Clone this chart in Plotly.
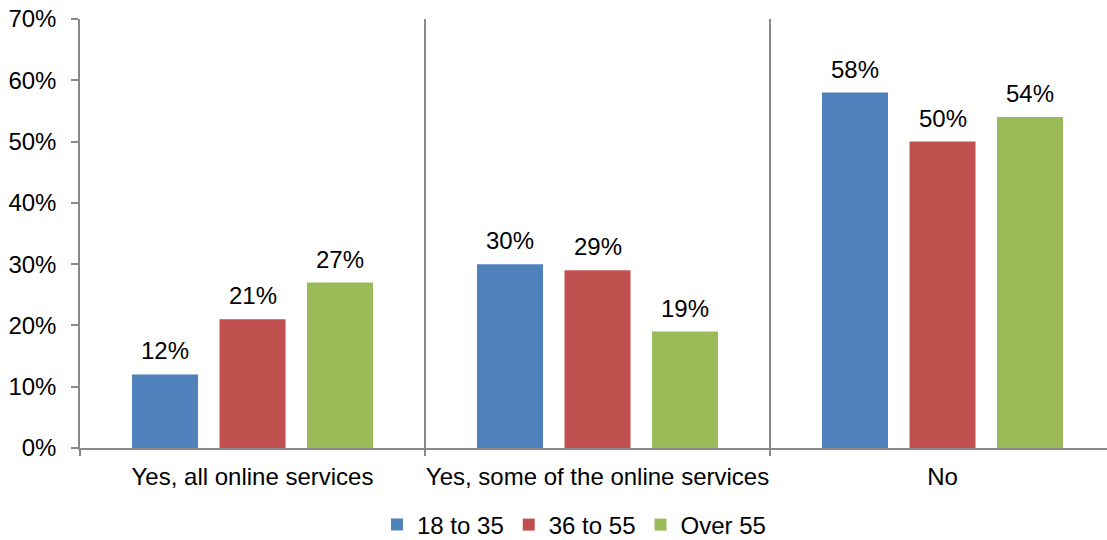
import plotly.graph_objects as go

categories = ["Yes, all online services", "Yes, some of the online services", "No"]
series_names = ["18 to 35", "36 to 55", "Over 55"]
series_values = [
    [0.12, 0.30, 0.58],
    [0.21, 0.29, 0.50],
    [0.27, 0.19, 0.54],
]
colors = ["#4F81BD", "#C0504D", "#9BBB59"]

BARGAP = 0.239
BARGROUPGAP = 0.246
slot = (1 - BARGAP) / len(series_names)

axis_grey = "#898989"
font = dict(family="Liberation Sans, Arial, sans-serif", size=24, color="#000000")

fig = go.Figure()
annotations = []
for k, (name, vals, col) in enumerate(zip(series_names, series_values, colors)):
    fig.add_trace(go.Bar(
        name=name, x=categories, y=vals,
        marker=dict(color=col, line=dict(width=0)),
        hoverinfo="skip",
    ))
    for i, v in enumerate(vals):
        annotations.append(dict(
            x=i + (k - 1) * slot, y=v, xref="x", yref="y",
            text=f"{round(v * 100)}%", showarrow=False,
            yanchor="bottom", yshift=8, font=font,
        ))

fig.update_layout(
    width=1107, height=540,
    margin=dict(l=80, r=0, t=19, b=92, autoexpand=False),
    paper_bgcolor="white", plot_bgcolor="white",
    barmode="group", bargap=BARGAP, bargroupgap=BARGROUPGAP,
    font=font,
    showlegend=True,
    legend=dict(
        orientation="h", x=0.481, xanchor="center",
        yref="container", y=(540 - 525) / 540, yanchor="middle",
        font=font, itemwidth=30, traceorder="normal",
    ),
    annotations=annotations,
)

fig.update_xaxes(
    type="category", range=[-0.5, -0.5 + 1027 / 345],
    tickson="boundaries", ticks="outside", ticklen=6, tickcolor=axis_grey, tickwidth=1.5,
    ticklabelstandoff=6, tickangle=0,
    showgrid=True, gridcolor=axis_grey, gridwidth=1.5,
    showline=True, linecolor=axis_grey, linewidth=1.5,
    tickfont=font, fixedrange=True,
)
fig.update_yaxes(
    range=[0, 0.7], dtick=0.1, tickformat=".0%",
    ticks="outside", ticklen=7, tickcolor=axis_grey, tickwidth=1.5,
    ticklabelstandoff=10,
    showgrid=False, zeroline=False,
    showline=True, linecolor=axis_grey, linewidth=1.5,
    tickfont=font, fixedrange=True,
)

fig.write_html("out.html", config={"displayModeBar": False})
